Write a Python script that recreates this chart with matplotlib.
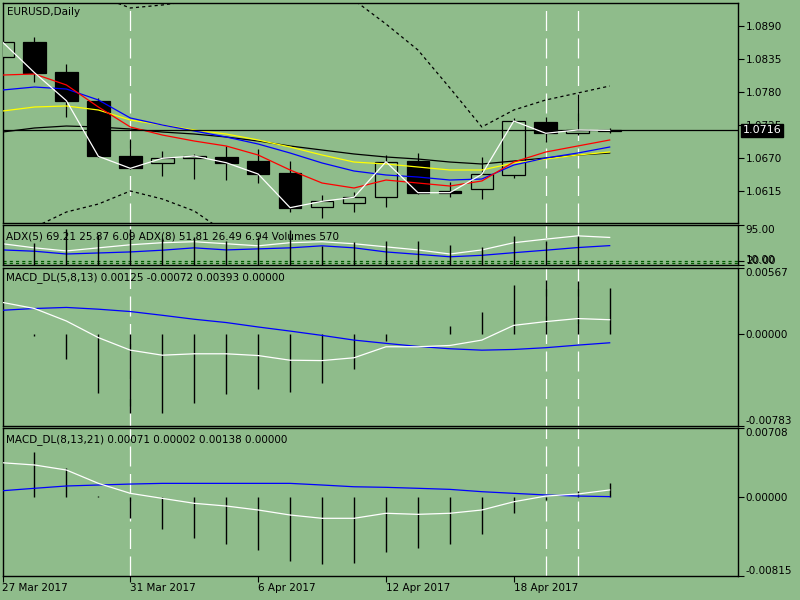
import numpy as np
import matplotlib
matplotlib.use('Agg')
import matplotlib.pyplot as plt

BG = '#8fbc8b'

# ---- data ----
dates = ['27 Mar', '28 Mar', '29 Mar', '30 Mar', '31 Mar', '3 Apr', '4 Apr', '5 Apr',
         '6 Apr', '7 Apr', '10 Apr', '11 Apr', '12 Apr', '13 Apr', '14 Apr', '17 Apr',
         '18 Apr', '19 Apr', '20 Apr', '21 Apr']
tick_idx = [0, 4, 8, 12, 16]
tick_labels = ['27 Mar 2017', '31 Mar 2017', '6 Apr 2017', '12 Apr 2017', '18 Apr 2017']
vline_idx = [4, 17, 18]

open_ = [1.08383, 1.08633, 1.08138, 1.07650, 1.06740, 1.06612, 1.06695, 1.06722, 1.06650, 1.06450,
         1.05878, 1.05945, 1.06045, 1.06650, 1.06155, 1.06178, 1.06417, 1.07305, 1.07112, 1.07150]
high = [1.08650, 1.08722, 1.08267, 1.07695, 1.07012, 1.06817, 1.06767, 1.06900, 1.06850, 1.06655,
        1.06083, 1.06138, 1.06750, 1.06788, 1.06295, 1.06722, 1.07362, 1.07378, 1.07762, 1.07205]
low = [1.08370, 1.07972, 1.07378, 1.06725, 1.06525, 1.06400, 1.06350, 1.06333, 1.06288, 1.05805,
       1.05695, 1.05795, 1.05888, 1.06100, 1.06055, 1.06017, 1.06362, 1.06972, 1.07088, 1.07112]
close = [1.08633, 1.08122, 1.07655, 1.06728, 1.06528, 1.06695, 1.06733, 1.06622, 1.06433, 1.05872,
         1.05978, 1.06045, 1.06638, 1.06122, 1.06122, 1.06428, 1.07317, 1.07112, 1.07167, 1.07160]
bid = 1.0716

ma_red = [1.08083, 1.08100, 1.07917, 1.07550, 1.07217, 1.07083, 1.06983, 1.06900, 1.06750, 1.06500,
          1.06283, 1.06200, 1.06333, 1.06283, 1.06233, 1.06317, 1.06633, 1.06800, 1.06900, 1.07000]
ma_blue = [1.07833, 1.07883, 1.07850, 1.07667, 1.07367, 1.07250, 1.07150, 1.07050, 1.06933, 1.06783,
           1.06617, 1.06483, 1.06417, 1.06383, 1.06333, 1.06350, 1.06583, 1.06700, 1.06783, 1.06883]
ma_yellow = [1.07483, 1.07550, 1.07567, 1.07500, 1.07333, 1.07250, 1.07167, 1.07100, 1.07000, 1.06883,
             1.06750, 1.06633, 1.06600, 1.06550, 1.06500, 1.06500, 1.06617, 1.06683, 1.06750, 1.06800]
ma_black = [1.07133, 1.07200, 1.07233, 1.07217, 1.07183, 1.07133, 1.07100, 1.07050, 1.06983, 1.06900,
            1.06833, 1.06767, 1.06717, 1.06683, 1.06633, 1.06600, 1.06650, 1.06700, 1.06750, 1.06783]
band_up = [1.10000, 1.09833, 1.09583, 1.09400, 1.09200, 1.09250, 1.09325, 1.09467, 1.09533, 1.09567,
           1.09533, 1.09333, 1.08933, 1.08500, 1.07867, 1.07217, 1.07500, 1.07667, 1.07783, 1.07900]
band_dn = [1.05300, 1.05545, 1.05800, 1.05933, 1.06150, 1.06017, 1.05817, 1.05450, 1.05417, 1.05167,
           1.04967, 1.04917, 1.04967, 1.05033, 1.05083, 1.05167, 1.05033, 1.04967, 1.04933, 1.04917]
price_ticks = [1.0615, 1.0670, 1.0725, 1.0780, 1.0835, 1.0890]

adx5 = [55.8, 47.1, 40.5, 47.1, 53.6, 58.0, 60.1, 55.8, 51.4, 58.0,
        60.1, 55.8, 49.2, 42.7, 34.0, 42.7, 58.0, 65.6, 72.6, 69.21]
adx8 = [42.7, 39.9, 34.0, 36.2, 38.4, 42.1, 47.1, 42.7, 44.9, 47.1,
        51.4, 47.1, 38.4, 33.3, 28.1, 31.2, 36.8, 42.1, 47.7, 51.81]
adx5_di = (25.87, 6.09)
adx8_di = (26.49, 6.94)
adx_levels = [19.0, 14.5]
adx_ticks = [10.0, 20.0, 95.0]
volume = [10500, 9800, 16100, 13200, 15800, 11900, 12300, 10600, 12300, 15700,
          8700, 10100, 10900, 10600, 9100, 7900, 12800, 10900, 12800, 570]

macd1_main = [0.00273, 0.00221, 0.00114, -0.00028, -0.00135, -0.00178, -0.00166, -0.00166, -0.00181, -0.00221,
              -0.00224, -0.00200, -0.00106, -0.00106, -0.00095, -0.00049, 0.00077, 0.00109, 0.00135, 0.00125]
macd1_sig = [0.00206, 0.00221, 0.00230, 0.00215, 0.00195, 0.00163, 0.00129, 0.00101, 0.00063, 0.00028,
             -0.00009, -0.00049, -0.00077, -0.00103, -0.00123, -0.00135, -0.00129, -0.00114, -0.00092, -0.00072]
macd1_hist = [0.0, -0.00015, -0.00209, -0.00501, -0.00673, -0.00668, -0.00587, -0.00510, -0.00467, -0.00493,
              -0.00415, -0.00295, -0.00058, 0.0, 0.00071, 0.00192, 0.00421, 0.00467, 0.00456, 0.00393]
macd1_ticks = [-0.00783, 0.0, 0.00567]

macd2_main = [0.00352, 0.00329, 0.00277, 0.00139, 0.00036, -0.00016, -0.00067, -0.00095, -0.00136, -0.00188,
              -0.00222, -0.00222, -0.00170, -0.00181, -0.00170, -0.00136, -0.00051, 0.00008, 0.00029, 0.00071]
macd2_sig = [0.00063, 0.00088, 0.00112, 0.00122, 0.00132, 0.00139, 0.00139, 0.00139, 0.00139, 0.00139,
             0.00122, 0.00104, 0.00098, 0.00088, 0.00077, 0.00053, 0.00036, 0.00019, 0.00008, 0.00002]
macd2_hist = [0.0, 0.00465, 0.00294, 0.00010, -0.00216, -0.00336, -0.00422, -0.00485, -0.00547, -0.00660,
              -0.00698, -0.00681, -0.00567, -0.00532, -0.00491, -0.00387, -0.00170, -0.00033, 0.00060, 0.00138]
macd2_ticks = [-0.00815, 0.0, 0.00708]

FS = 7.5
LW = 0.9
x = np.arange(len(dates))

fig = plt.figure(figsize=(8, 6), dpi=100, facecolor=BG)


def rect(y0, y1):
    # pixel box -> figure fraction (x from 2.5 to 737.5 px)
    return [2.5 / 800, 1 - y1 / 600, 735 / 800, (y1 - y0) / 600]


def panel(y0, y1):
    ax = fig.add_axes(rect(y0, y1))
    ax.set_facecolor(BG)
    ax.set_xlim(0, 23)
    for s in ax.spines.values():
        s.set_color('black')
        s.set_linewidth(1.0)
    ax.yaxis.tick_right()
    ax.tick_params(axis='y', direction='out', length=4, width=0.8, labelsize=FS, pad=2,
                   colors='black')
    ax.tick_params(axis='x', bottom=False, labelbottom=False)
    for i in vline_idx:
        ax.axvline(i, color='white', lw=LW, ls=(0, (16, 6)), zorder=1)
    return ax


def edge_labels(ax):
    labs = ax.get_yticklabels()
    labs[0].set_va('bottom')
    labs[-1].set_va('top')


# ---- price panel ----
ax = panel(2.7, 223)
ax.set_ylim(1.056167, 1.092883)
ax.set_yticks(price_ticks)
ax.set_yticklabels([f'{p:.4f}' for p in price_ticks])

o, h, l, c = map(np.array, (open_, high, low, close))
bull = c >= o
ax.vlines(x, l, h, color='black', lw=LW, zorder=2)
bot = np.minimum(o, c)
hgt = np.maximum(np.abs(c - o), 0.00003)
ax.bar(x[~bull], hgt[~bull], 0.71, bottom=bot[~bull], color='black', edgecolor='black', lw=LW, zorder=3)
ax.bar(x[bull], hgt[bull], 0.71, bottom=bot[bull], color=BG, edgecolor='black', lw=LW, zorder=3)

ax.plot(x, band_up, color='black', lw=LW, ls=(0, (2.5, 2.5)), zorder=4)
ax.plot(x, band_dn, color='black', lw=LW, ls=(0, (2.5, 2.5)), zorder=4)
ax.plot(x, ma_black, color='black', lw=LW, zorder=4)
ax.plot(x, ma_yellow, color='yellow', lw=LW, zorder=4)
ax.plot(x, ma_blue, color='blue', lw=LW, zorder=4)
ax.plot(x, ma_red, color='red', lw=LW, zorder=4)
ax.plot(x, close, color='white', lw=LW, zorder=5)
ax.axhline(bid, color='black', lw=LW, zorder=4)
ax.annotate(f'{bid:.4f}', xy=(1, bid), xycoords=('axes fraction', 'data'),
            xytext=(3.5, 0), textcoords='offset points', va='center', ha='left',
            color='white', fontsize=FS + 0.5, annotation_clip=False, zorder=10,
            bbox=dict(boxstyle='square,pad=0.15', fc='black', ec='black'))

# ---- ADX / volumes panel ----
ax2 = panel(225.3, 265.3)
ax2.set_ylim(10, 95)
ax2.set_yticks(adx_ticks)
ax2.set_yticklabels([f'{v:.2f}' for v in adx_ticks])
edge_labels(ax2)
ax2.get_yticklabels()[1].set_va('center')
for lv in adx_levels:
    ax2.axhline(lv, color='#005a00', lw=LW, ls=(0, (2.5, 2.5)), zorder=2)
ax2.plot(x, adx5, color='white', lw=LW, zorder=3)
ax2.plot(x, adx8, color='blue', lw=LW, zorder=3)

# volumes share the window but have their own scale
axv = fig.add_axes(rect(225.3, 265.3))
axv.set_xlim(0, 23)
axv.set_ylim(0, 17600)
axv.set_axis_off()
axv.vlines(x, 0, volume, color='black', lw=1.0)

# ---- MACD panels ----
ax3 = panel(268, 426)
ax3.set_ylim(macd1_ticks[0], macd1_ticks[-1])
ax3.set_yticks(macd1_ticks)
ax3.set_yticklabels([f'{v:.5f}' for v in macd1_ticks])
edge_labels(ax3)
ax3.vlines(x, 0, macd1_hist, color='black', lw=1.0, zorder=2)
ax3.plot(x, macd1_sig, color='blue', lw=LW, zorder=3)
ax3.plot(x, macd1_main, color='white', lw=LW, zorder=3)

ax4 = panel(428.3, 575.7)
ax4.set_ylim(macd2_ticks[0], macd2_ticks[-1])
ax4.set_yticks(macd2_ticks)
ax4.set_yticklabels([f'{v:.5f}' for v in macd2_ticks])
edge_labels(ax4)
ax4.vlines(x, 0, macd2_hist, color='black', lw=1.0, zorder=2)
ax4.plot(x, macd2_sig, color='blue', lw=LW, zorder=3)
ax4.plot(x, macd2_main, color='white', lw=LW, zorder=3)
ax4.tick_params(axis='x', bottom=True, labelbottom=True, direction='out', length=4,
                width=0.8, labelsize=FS, pad=1.5)
ax4.set_xticks(tick_idx)
ax4.set_xticklabels(tick_labels, ha='left')

# ---- texts ----
def ftext(px, py, s):
    fig.text(px / 800, 1 - py / 600, s, fontsize=FS, va='center', ha='left', color='black')


ftext(7, 12, 'EURUSD,Daily')
ftext(6, 236.5, f'ADX(5) {adx5[-1]:.2f} {adx5_di[0]:.2f} {adx5_di[1]:.2f} '
                f'ADX(8) {adx8[-1]:.2f} {adx8_di[0]:.2f} {adx8_di[1]:.2f} Volumes {volume[-1]}')
ftext(6, 278, f'MACD_DL(5,8,13) {macd1_main[-1]:.5f} {macd1_sig[-1]:.5f} {macd1_hist[-1]:.5f} 0.00000')
ftext(6, 440, f'MACD_DL(8,13,21) {macd2_main[-1]:.5f} {macd2_sig[-1]:.5f} {macd2_hist[-1]:.5f} 0.00000')

fig.savefig('out.png', dpi=100, facecolor=BG)
